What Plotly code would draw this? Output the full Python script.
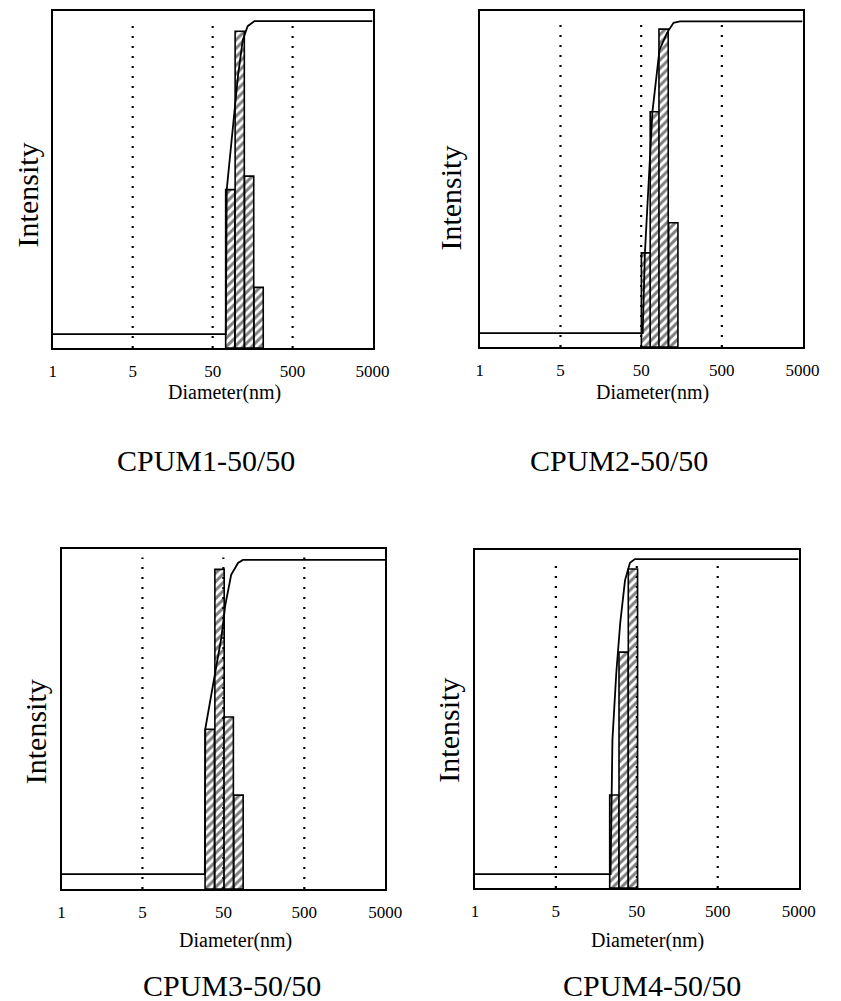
import numpy as np
import plotly.graph_objects as go

# ---------------- data ----------------
titles = ["CPUM1-50/50", "CPUM2-50/50", "CPUM3-50/50", "CPUM4-50/50"]
tick_nm = [1, 5, 50, 500, 5000]
tick_text = ["1", "5", "50", "500", "5000"]
guide_nm = [5, 50, 500]

# histogram bars: diameter (nm) and intensity (%)
bar1_d = [83, 109, 143, 188]
bar1_v = [47, 94, 51, 18]
bar2_d = [57.4, 73.8, 94.8, 125]
bar2_v = [28, 70, 94.6, 37]
bar3_d = [33.9, 44.8, 58.2, 76.9]
bar3_v = [47, 94, 50.6, 27.6]
bar4_d = [26.4, 34.4, 44.8]
bar4_v = [27.5, 69.8, 94.4]

# cumulative curves: diameter (nm) and cumulative intensity (%)
cum1_d = [1, 73, 75, 104, 119, 137, 167, 5000]
cum1_v = [4.1, 4.1, 47, 81, 91.4, 95.5, 97, 97]
cum2_d = [1, 52.2, 55.6, 68.9, 84.3, 104.5, 126, 151, 5000]
cum2_v = [4.1, 4.1, 28, 70, 88.4, 93.5, 96.5, 96.9, 96.9]
cum3_d = [1, 29.5, 29.9, 47.3, 52.8, 62.4, 75.9, 87.1, 5000]
cum3_v = [4.4, 4.4, 47.1, 74.1, 83.5, 92.4, 95.9, 96.8, 96.8]
cum4_d = [1, 23.7, 25.0, 27.9, 31.2, 35.8, 41.2, 47.3, 5000]
cum4_v = [4.1, 4.1, 43.8, 63.6, 78.4, 91.1, 96.2, 97.3, 97.3]

bars_d = [bar1_d, bar2_d, bar3_d, bar4_d]
bars_v = [bar1_v, bar2_v, bar3_v, bar4_v]
cums_d = [cum1_d, cum2_d, cum3_d, cum4_d]
cums_v = [cum1_v, cum2_v, cum3_v, cum4_v]


# the instrument's axis places 1, 5, 50, 500, 5000 at equal spacing
def to_pos(d):
    d = np.asarray(d, dtype=float)
    return np.where(d < 5, np.log10(d) / np.log10(5), 1 + np.log10(d / 5))


# ---------------- layout geometry (page pixels) ----------------
W, H = 841, 1001
plot_px = [  # x0, x1, y0(top), y1(bottom)
    (50, 378, 11, 348),
    (488, 819, 11, 347),
    (59, 391, 549, 889),
    (483, 815, 550, 888),
]
ylab_px = [(25, 195), (458, 198), (32, 732), (455, 730)]
xlab_px = [(226, 393), (665, 393), (237, 940), (660, 940)]
title_px = [(207, 460), (631, 460), (234, 985), (665, 985)]


def px_x(x):
    return x / W


def px_y(y):
    return 1 - y / H


FONT = "Liberation Serif"
fig = go.Figure()
annotations = []
layout_axes = {}

for i in range(4):
    sfx = "" if i == 0 else str(i + 1)
    xa, ya = "x" + sfx, "y" + sfx
    # dotted guide lines
    for g in guide_nm:
        p = float(to_pos([g])[0])
        fig.add_trace(go.Scatter(
            x=[p, p], y=[0, 97.5], mode="lines",
            line=dict(color="black", width=2.2, dash="2px,8px"),
            xaxis=xa, yaxis=ya, showlegend=False, hoverinfo="skip"))
    # hatched histogram bars
    fig.add_trace(go.Bar(
        x=to_pos(bars_d[i]), y=bars_v[i], width=0.115,
        marker=dict(color="white", line=dict(color="black", width=1.6),
                    pattern=dict(shape="/", fgcolor="black", bgcolor="white",
                                 size=6, solidity=0.5)),
        xaxis=xa, yaxis=ya, showlegend=False))
    # cumulative curve
    fig.add_trace(go.Scatter(
        x=to_pos(cums_d[i]), y=cums_v[i], mode="lines",
        line=dict(color="black", width=1.8),
        xaxis=xa, yaxis=ya, showlegend=False))

    x0, x1, y0, y1 = plot_px[i]
    layout_axes["xaxis" + sfx] = dict(
        domain=[px_x(x0), px_x(x1)], range=[0, 4], anchor=ya,
        tickvals=to_pos(tick_nm).tolist(), ticktext=tick_text,
        showline=True, mirror=True, linecolor="black", linewidth=2,
        showgrid=False, zeroline=False, ticks="", ticklabelstandoff=7,
        tickfont=dict(family=FONT, size=17, color="black"))
    layout_axes["yaxis" + sfx] = dict(
        domain=[px_y(y1), px_y(y0)], range=[0, 100], anchor=xa,
        showline=True, mirror=True, linecolor="black", linewidth=2,
        showgrid=False, zeroline=False, showticklabels=False, ticks="")

    annotations.append(dict(text="Intensity", textangle=-90, showarrow=False,
                            xref="paper", yref="paper",
                            x=px_x(ylab_px[i][0]), y=px_y(ylab_px[i][1]),
                            xanchor="center", yanchor="middle",
                            font=dict(family=FONT, size=30, color="black")))
    annotations.append(dict(text="Diameter(nm)", showarrow=False,
                            xref="paper", yref="paper",
                            x=px_x(xlab_px[i][0]), y=px_y(xlab_px[i][1]),
                            xanchor="center", yanchor="middle",
                            font=dict(family=FONT, size=20, color="black")))
    annotations.append(dict(text=titles[i], showarrow=False,
                            xref="paper", yref="paper",
                            x=px_x(title_px[i][0]), y=px_y(title_px[i][1]),
                            xanchor="center", yanchor="middle",
                            font=dict(family=FONT, size=30, color="black")))

fig.update_layout(
    width=W, height=H, margin=dict(l=0, r=0, t=0, b=0),
    paper_bgcolor="white", plot_bgcolor="white",
    annotations=annotations, **layout_axes)

# remove the page's default body margin so the figure sits at (0, 0)
fig.write_html(
    "out.html",
    config={"displayModeBar": False},
    post_script="document.body.style.margin='0px';"
                "document.body.style.overflow='hidden';")
